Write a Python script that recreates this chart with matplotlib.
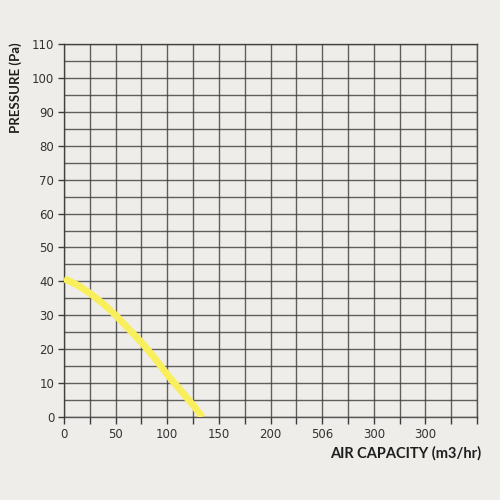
import numpy as np
import matplotlib.pyplot as plt

# fan curve
flow = [0, 12.5, 25, 37.5, 50, 62.5, 75, 87.5, 100, 112.5, 125, 134]
pressure = [40.8, 39.0, 36.5, 33.5, 30.0, 26.0, 22.0, 17.5, 12.5, 8.0, 3.5, 0.0]

x_tick_pos = [0, 50, 100, 150, 200, 250, 300, 350]
x_tick_labels = ['0', '50', '100', '150', '200', '506', '300', '300']
y_ticks = list(range(0, 111, 10))

bg = '#eeedea'
grid_c = '#3c3c3c'

fig = plt.figure(figsize=(5, 5), dpi=100, facecolor=bg)
ax = fig.add_axes([0.128, 0.166, 0.826, 0.746], facecolor=bg)

ax.set_xlim(0, 400)
ax.set_ylim(0, 110)

ax.grid(True, which='major', color=grid_c, lw=1.0, alpha=0.8)

# labels only at every 50 on x and every 10 on y
xt = np.arange(0, 401, 25)
ax.set_xticks(xt)
ax.set_xticklabels([x_tick_labels[x_tick_pos.index(v)] if v in x_tick_pos else '' for v in xt])
yt = np.arange(0, 111, 5)
ax.set_yticks(yt)
ax.set_yticklabels([str(v) if v in y_ticks else '' for v in yt])

ax.tick_params(axis='x', length=5, width=1, color=grid_c, labelsize=8.5, labelcolor='#333333', pad=3)
ax.tick_params(axis='y', length=4, width=1, color=grid_c, labelsize=8.5, labelcolor='#333333', pad=3)
for t, v in zip(ax.yaxis.get_major_ticks(), yt):
    if v not in y_ticks:
        t.tick1line.set_visible(False)

for s in ax.spines.values():
    s.set_color(grid_c)
    s.set_linewidth(1.0)
    s.set_alpha(0.85)

ax.plot(flow, pressure, color='#f9ef5c', lw=5, solid_capstyle='butt', zorder=5)

fig.text(0.032, 0.824, 'PRESSURE (Pa)', rotation=90, ha='center', va='center',
         fontsize=9.5, fontweight='bold', color='#1e1e1e', family='Lato')
fig.text(0.962, 0.094, 'AIR CAPACITY (m3/hr)', ha='right', va='center',
         fontsize=10.5, fontweight='bold', color='#1e1e1e', family='Lato')

fig.savefig('out.png', dpi=100, facecolor=bg)
